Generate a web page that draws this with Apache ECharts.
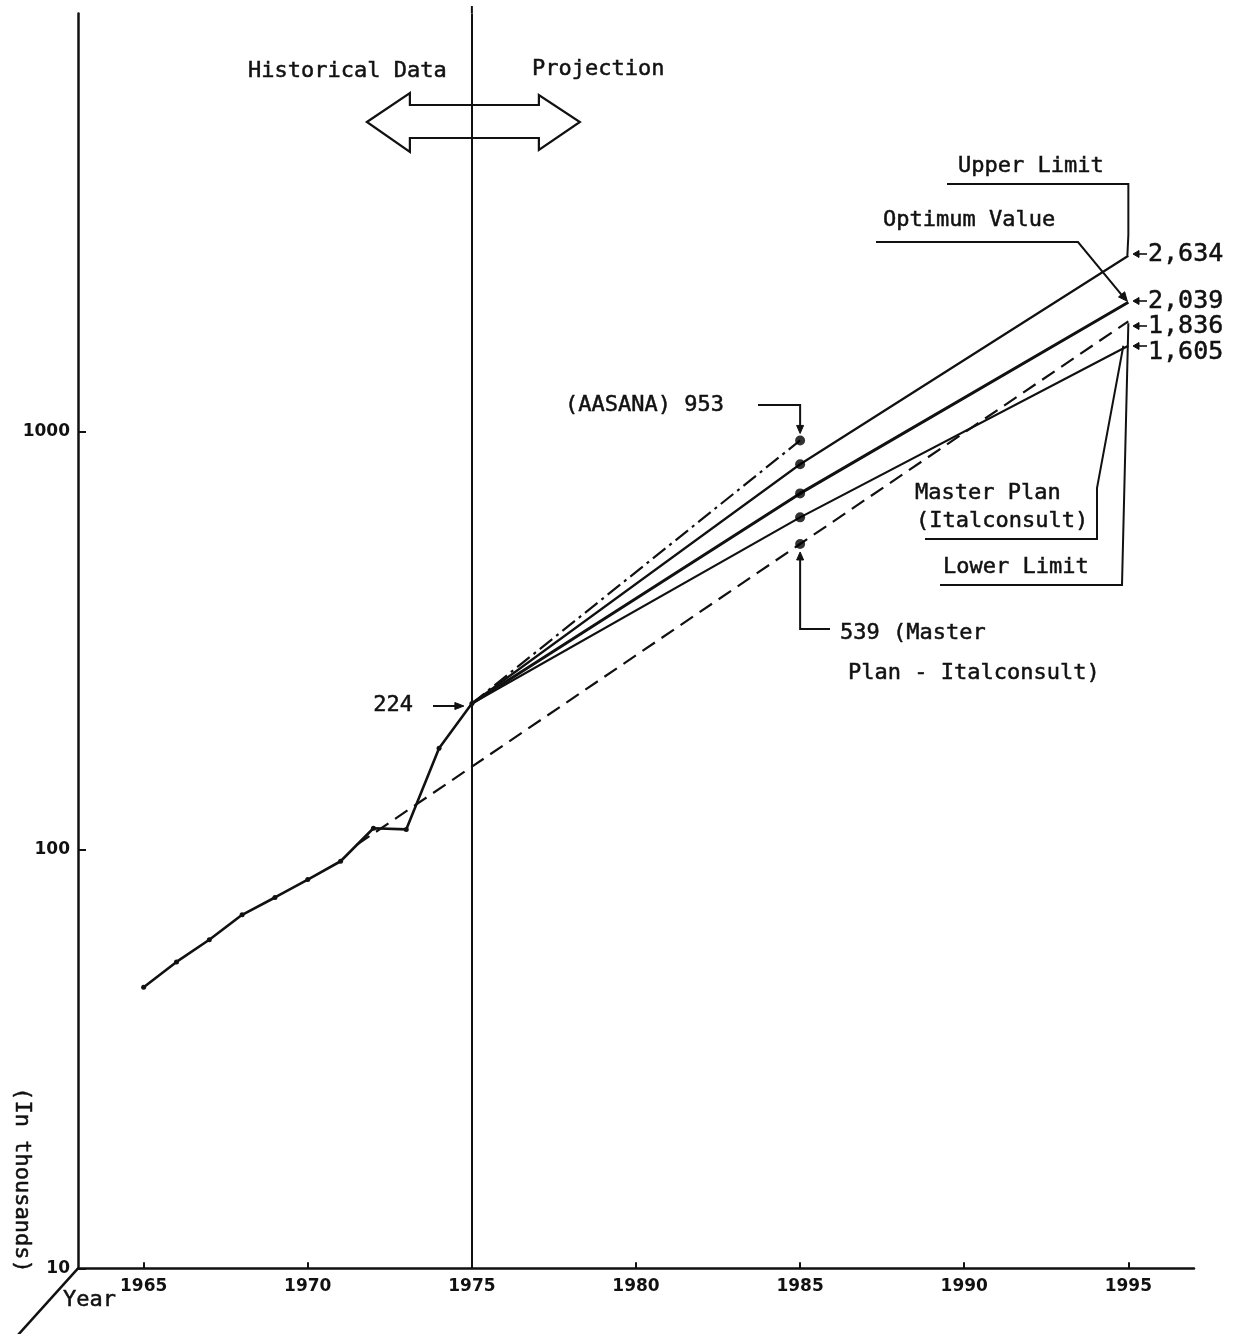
<!DOCTYPE html>
<html>
<head>
<meta charset="utf-8">
<script src="https://cdn.jsdelivr.net/npm/echarts@6/dist/echarts.min.js"></script>
<style>
html,body{margin:0;padding:0;background:#fff;}
#c{width:1238px;height:1334px;}
</style>
</head>
<body>
<div id="c"></div>
<script>
// ---- data (passengers, in thousands) ----
const histYears  = [1965, 1966, 1967, 1968, 1969, 1970, 1971, 1972, 1973, 1974, 1975];
const histValues = [47, 54, 61, 70, 77, 85, 94, 112.7, 112, 175, 224];

const projYears     = [1975, 1985, 1995];
const upperLimit    = [224, 836, 2634];
const optimumValue  = [224, 712, 2039];
const lowerLimit    = [224, 624, 1605];

const aasanaYears   = [1975, 1985];
const aasanaValues  = [224, 953];

const masterYears   = [1971.5, 1985, 1995];
const masterValues  = [103, 539, 1836];

const dots1985      = [953, 836, 712, 624, 539];

const xTickYears    = [1965, 1970, 1975, 1980, 1985, 1990, 1995];
const yTickLabels   = [10, 100, 1000];

const MONO = '"DejaVu Sans Mono", "Liberation Mono", monospace';
const INK = '#111';

const pairs = (xs, ys) => xs.map((x, i) => [x, ys[i]]);

const chart = echarts.init(document.getElementById('c'), null, {renderer: 'canvas'});

const lineSeries = (name, data, width, type) => ({
  name, type: 'line', data, showSymbol: false, symbol: 'none', z: 3,
  lineStyle: {color: INK, width: width, type: type || 'solid'},
  animation: false
});

chart.setOption({
  animation: false,
  backgroundColor: '#fff',
  grid: {left: 78, right: 44, top: 13.4, bottom: 65.7},
  xAxis: {
    type: 'value', min: 1963, max: 1997,
    splitLine: {show: false},
    axisLine: {lineStyle: {color: INK, width: 2.5}},
    axisTick: {show: true, inside: true, length: 6, lineStyle: {color: INK, width: 2}, customValues: xTickYears},
    axisLabel: {customValues: xTickYears, margin: 10, color: INK,
      fontFamily: '"DejaVu Sans", sans-serif', fontWeight: 'bold', fontSize: 17,
      formatter: v => String(v)}
  },
  yAxis: {
    type: 'log', logBase: 10, min: 10, max: 10000,
    splitLine: {show: false},
    minorTick: {show: false},
    axisLine: {show: true, lineStyle: {color: INK, width: 2.5}},
    axisTick: {show: true, inside: true, length: 8, lineStyle: {color: INK, width: 2}},
    axisLabel: {margin: 8, color: INK, fontFamily: '"DejaVu Sans", sans-serif', fontWeight: 'bold', fontSize: 17,
      showMaxLabel: false,
      formatter: v => (yTickLabels.indexOf(Math.round(v)) >= 0 ? String(Math.round(v)) : '')}
  },
  series: [
    {
      name: 'Historical', type: 'line', data: pairs(histYears, histValues), z: 4,
      symbol: 'circle', symbolSize: 5, showSymbol: true,
      itemStyle: {color: INK}, lineStyle: {color: INK, width: 2.6},
      markLine: {
        silent: true, symbol: ['none', 'none'], label: {show: false},
        lineStyle: {color: INK, width: 2, type: 'solid'},
        data: [{xAxis: 1975}]
      }
    },
    lineSeries('Master Plan (Italconsult)', pairs(masterYears, masterValues), 2.2, [15, 8]),
    lineSeries('AASANA', pairs(aasanaYears, aasanaValues), 2.2, [16, 5, 3, 5]),
    lineSeries('Upper Limit', pairs(projYears, upperLimit), 2.2),
    lineSeries('Optimum Value', pairs(projYears, optimumValue), 3),
    lineSeries('Lower Limit', pairs(projYears, lowerLimit), 2.2),
    {
      name: '1985 points', type: 'scatter', z: 5,
      data: dots1985.map(v => [1985, v]),
      symbol: 'circle', symbolSize: 10, itemStyle: {color: '#000'}
    }
  ]
});

// ---- annotations ----
const p = (x, y) => chart.convertToPixel({xAxisIndex: 0, yAxisIndex: 0}, [x, y]);

const g = [];
const txt = (text, x, y, size, align, extra) => g.push(Object.assign({
  type: 'text', x, y, z: 10,
  style: {text, fill: INK, stroke: INK, lineWidth: 0.5,
    font: (size || 22) + 'px ' + MONO, align: align || 'left', verticalAlign: 'middle'}
}, extra || {}));
const poly = (points, w) => g.push({
  type: 'polyline', z: 10, shape: {points},
  style: {stroke: INK, lineWidth: w || 2, fill: null}
});
const head = (tip, dx, dy, len, half) => {
  const L = Math.hypot(dx, dy); const ux = dx / L, uy = dy / L;
  const bx = tip[0] - ux * len, by = tip[1] - uy * len;
  g.push({type: 'polygon', z: 11, shape: {points: [
    tip, [bx - uy * half, by + ux * half], [bx + uy * half, by - ux * half]
  ]}, style: {fill: INK, stroke: INK, lineWidth: 1}});
};
const leftArrow = (x, y) => { poly([[x + 14, y], [x + 3, y]], 1.6); head([x, y], -1, 0, 6, 3.5); };

const P2634 = p(1995, 2634), P2039 = p(1995, 2039), P1836 = p(1995, 1836), P1605 = p(1995, 1605);
const P953 = p(1985, 953), P539 = p(1985, 539), P224 = p(1975, 224);
const Ptop = p(1975, 10000), O = p(1963, 10);

// vertical divider extends above plot top
poly([[Ptop[0], 6], [Ptop[0], Ptop[1]]], 2);

// Historical Data / Projection + double arrow
txt('Historical Data', 248, 71, 22);
txt('Projection', 532, 69, 22);
const cx = Ptop[0], cy = 122;
g.push({type: 'polygon', z: 10, shape: {points: [
  [cx - 105, cy], [cx - 62, cy - 29], [cx - 62, cy - 17], [cx + 67, cy - 17], [cx + 67, cy - 27],
  [cx + 108, cy], [cx + 67, cy + 28], [cx + 67, cy + 16], [cx - 62, cy + 16], [cx - 62, cy + 30]
]}, style: {fill: null, stroke: INK, lineWidth: 2.2}});

// Upper Limit
txt('Upper Limit', 958, 166, 22);
poly([[947, 184], [P2634[0], 184], [P2634[0], 235], [P2634[0] - 1, P2634[1]]], 2);
// Optimum Value
txt('Optimum Value', 883, 220, 22);
poly([[876, 242], [1078, 242], [P2039[0] - 3, P2039[1] - 3]], 2);
head([P2039[0] - 1, P2039[1] - 1], P2039[0] - 1078, P2039[1] - 242, 9, 4);

// right value labels
[[P2634, '2,634', 254], [P2039, '2,039', 301], [P1836, '1,836', 326], [P1605, '1,605', 352]].forEach(([P, t, y]) => {
  leftArrow(1133, y - (t === '1,605' ? 6 : 0));
  txt(t, 1148, y, 25);
});

// AASANA 953
txt('(AASANA) 953', 565, 405, 22);
poly([[758, 405], [P953[0], 405], [P953[0], P953[1] - 12]], 2);
head([P953[0], P953[1] - 7], 0, 1, 8, 3.5);

// 224
txt('224', 413, 705, 22, 'right');
poly([[433, 706], [P224[0] - 14, 706]], 2);
head([P224[0] - 8, 706], 1, 0, 9, 3.5);

// 539 (Master Plan - Italconsult)
txt('539 (Master', 840, 633, 22);
txt('Plan - Italconsult)', 848, 673, 22);
poly([[830, 629], [P539[0], 629], [P539[0], P539[1] + 14]], 2);
head([P539[0], P539[1] + 8], 0, -1, 8, 3.5);

// Master Plan (Italconsult)
txt('Master Plan', 915, 493, 22);
txt('(Italconsult)', 916, 521, 22);
poly([[925, 539], [1097, 539], [1097, 488], [P1605[0] - 5, P1605[1]]], 2);

// Lower Limit
txt('Lower Limit', 943, 567, 22);
poly([[940, 585], [1122, 585], [P1836[0], P1836[1] + 2]], 2);

// axis titles
txt('(In thousands)', 22, 1180, 22, 'center', {rotation: -Math.PI / 2});
txt('Year', 63, 1300, 22);
poly([[O[0], O[1]], [O[0] - 72, O[1] + 80]], 2.5);

chart.setOption({graphic: g});
</script>
</body>
</html>
